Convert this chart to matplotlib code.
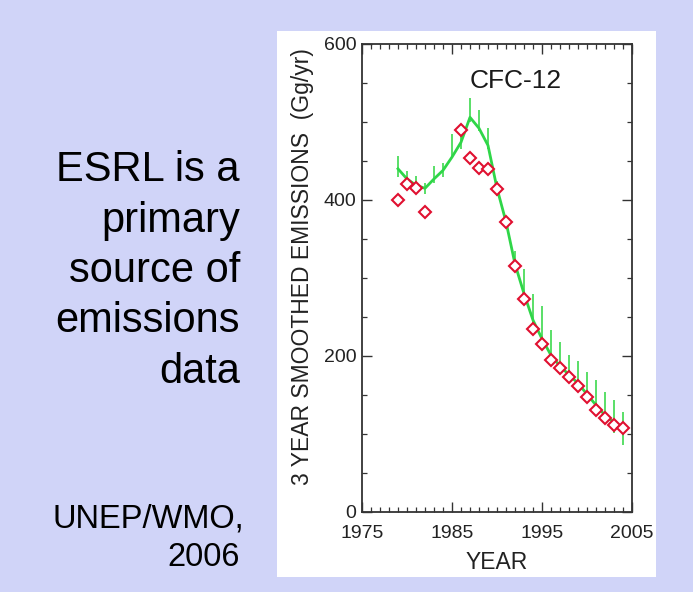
import matplotlib.pyplot as plt
from matplotlib.patches import Rectangle
from matplotlib.ticker import MultipleLocator

plt.rcParams['font.family'] = ['Liberation Sans', 'DejaVu Sans']

# smoothed emissions line (Gg/yr)
line_years = list(range(1979, 2005))
line_vals = [440, 427, 419, 415, 427, 438, 455, 474, 506, 492, 470, 415, 372,
             318, 280, 246, 222, 201, 187, 176, 165, 151, 137, 124, 115, 108]
# uncertainty bars around the line
bar_lo = [430, 416, 410, 408, 422, 430, 455, 466, 500, 488, 465, 405, 365,
          310, 272, 240, 216, 192, 180, 168, 157, 144, 130, 114, 101, 86]
bar_hi = [457, 437, 431, 422, 444, 448, 485, 490, 531, 515, 492, 425, 380,
          335, 312, 280, 264, 233, 218, 201, 194, 180, 169, 154, 143, 128]

# red diamond estimates
pt_years = [1979, 1980, 1981, 1982, 1986, 1987, 1988, 1989, 1990, 1991, 1992,
            1993, 1994, 1995, 1996, 1997, 1998, 1999, 2000, 2001, 2002, 2003, 2004]
pt_vals = [400, 421, 416, 385, 490, 454, 441, 440, 414, 372, 315,
           273, 235, 216, 195, 184, 173, 161, 148, 131, 121, 112, 108]

x_ticks = [1975, 1985, 1995, 2005]
y_ticks = [0, 200, 400, 600]

W, H = 693, 592
fig = plt.figure(figsize=(W / 100, H / 100), dpi=100)
fig.patch.set_facecolor('#d0d4f8')

# white panel behind the chart
fig.patches.append(Rectangle((277 / W, 1 - 577 / H), (656 - 277) / W, (577 - 31) / H,
                             transform=fig.transFigure, fc='white', ec='none', zorder=-1))

ax = fig.add_axes([362 / W, 1 - 512 / H, 270 / W, 468 / H])
ax.set_zorder(2)
ax.set_facecolor('white')

ax.vlines(line_years, bar_lo, bar_hi, color='#4cdc5c', lw=1.3, zorder=2)
ax.plot(line_years, line_vals, color='#2fd648', lw=2.0, zorder=3)
ax.plot(pt_years, pt_vals, ls='none', marker='D', ms=6.3, mfc='white', mec='#e01030',
        mew=1.5, zorder=4)

ax.set_xlim(1975, 2005)
ax.set_ylim(0, 600)
ax.set_xticks(x_ticks)
ax.set_yticks(y_ticks)
ax.xaxis.set_minor_locator(MultipleLocator(1))
ax.yaxis.set_minor_locator(MultipleLocator(50))
ax.tick_params(which='both', direction='in', top=True, right=True, color='#333333')
ax.tick_params(which='major', length=7, width=1.0)
ax.tick_params(which='minor', length=3.5, width=0.9)
ax.tick_params(axis='x', labelsize=14, pad=9.5, labelcolor='#222222')
ax.tick_params(axis='y', labelsize=14, pad=4, labelcolor='#222222')
for s in ax.spines.values():
    s.set_color('#333333')
    s.set_linewidth(1.3)

ax.text(0.57, 0.92, 'CFC-12', transform=ax.transAxes, ha='center', va='center',
        fontsize=19, color='#1a1a1a')
ax.set_xlabel('YEAR', fontsize=16.5, color='#222222', labelpad=6)
fig.text(302 / W, 1 - 266.5 / H, '3 YEAR SMOOTHED EMISSIONS  (Gg/yr)', rotation=90,
         ha='center', va='center', fontsize=16.5, color='#222222')

# side text
side_lines = ['ESRL is a', 'primary', 'source of', 'emissions', 'data']
for i, t in enumerate(side_lines):
    fig.text(240 / W, 1 - (181 + i * 50.5) / H, t, ha='right', va='baseline',
             fontsize=30, color='black')
fig.text(244 / W, 1 - 527 / H, 'UNEP/WMO,', ha='right', va='baseline', fontsize=23.5, color='black')
fig.text(240 / W, 1 - 566 / H, '2006', ha='right', va='baseline', fontsize=23.5, color='black')

fig.savefig('out.png', dpi=100, facecolor=fig.get_facecolor())
